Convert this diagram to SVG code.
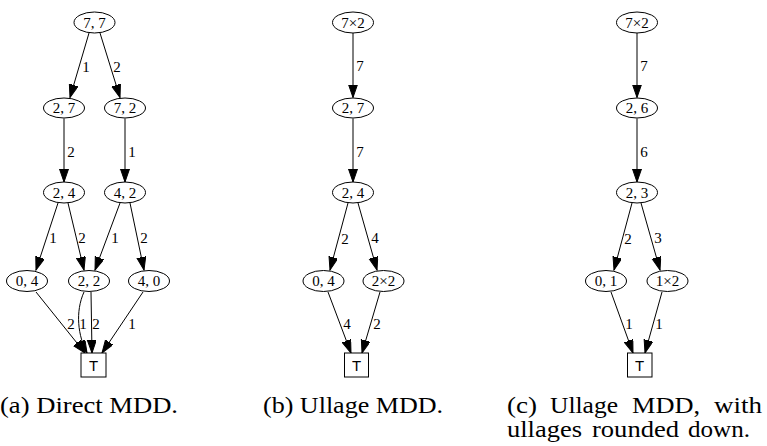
<svg xmlns="http://www.w3.org/2000/svg" width="767" height="446" viewBox="0 0 767 446">
  <style>
    .node ellipse { fill: #fff; stroke: #000; stroke-width: 1; }
    .node rect { fill: #fff; stroke: #000; stroke-width: 1; }
    .lbl { font-family: 'Liberation Serif', 'Times New Roman', serif; font-size: 15px; text-anchor: middle; fill: #000; }
    .term { font-family: 'Liberation Sans', Arial, sans-serif; font-size: 15px; text-anchor: middle; fill: #000; }
    .edge { fill: none; stroke: #000; stroke-width: 1; marker-end: url(#arrow); }
    .elbl { font-family: 'Liberation Serif', 'Times New Roman', serif; font-size: 15px; text-anchor: middle; fill: #000; }
    .cap { font-family: 'Liberation Serif', 'Times New Roman', serif; font-size: 24px; fill: #000; }
  </style>
  <defs>
    <marker id="arrow" markerUnits="userSpaceOnUse" markerWidth="14" markerHeight="10" refX="13" refY="4.5" orient="auto">
      <path d="M0,0 L13,4.5 L0,9 Z" fill="#000" stroke="#000" stroke-width="1"/>
    </marker>
  </defs>

  <!-- connectors -->
  <g id="connectors">
    <!-- (a) direct MDD -->
    <line class="edge" x1="89" y1="33" x2="70" y2="97.5"/>
    <line class="edge" x1="100" y1="33" x2="120" y2="97.5"/>
    <line class="edge" x1="64" y1="118.5" x2="64" y2="182"/>
    <line class="edge" x1="125" y1="118.5" x2="125" y2="182"/>
    <line class="edge" x1="58" y1="203" x2="36" y2="270"/>
    <line class="edge" x1="68" y1="203" x2="84" y2="270"/>
    <line class="edge" x1="120" y1="203" x2="95" y2="270"/>
    <line class="edge" x1="130" y1="203" x2="144" y2="270"/>
    <line class="edge" x1="36" y1="292" x2="85" y2="353"/>
    <path class="edge" d="M84,292 C75,312 78,336 87,353"/>
    <line class="edge" x1="91" y1="292" x2="92" y2="353"/>
    <line class="edge" x1="143" y1="292" x2="102" y2="353"/>
    <text class="elbl" x="86" y="72">1</text>
    <text class="elbl" x="117" y="72">2</text>
    <text class="elbl" x="71" y="157">2</text>
    <text class="elbl" x="132" y="157">1</text>
    <text class="elbl" x="53" y="243">1</text>
    <text class="elbl" x="82" y="243">2</text>
    <text class="elbl" x="115" y="243">1</text>
    <text class="elbl" x="144" y="243">2</text>
    <text class="elbl" x="71" y="329">2</text>
    <text class="elbl" x="83" y="329">1</text>
    <text class="elbl" x="96" y="329">2</text>
    <text class="elbl" x="132" y="329">1</text>

    <!-- (b) ullage MDD -->
    <line class="edge" x1="353" y1="33" x2="353" y2="97.5"/>
    <line class="edge" x1="353" y1="118.5" x2="353" y2="182"/>
    <line class="edge" x1="348" y1="203" x2="330" y2="270"/>
    <line class="edge" x1="358" y1="203" x2="377" y2="270"/>
    <line class="edge" x1="328" y1="292" x2="351" y2="353"/>
    <line class="edge" x1="380" y1="292" x2="362" y2="353"/>
    <text class="elbl" x="360" y="71">7</text>
    <text class="elbl" x="360" y="157">7</text>
    <text class="elbl" x="345" y="244">2</text>
    <text class="elbl" x="375" y="243">4</text>
    <text class="elbl" x="347" y="329">4</text>
    <text class="elbl" x="377" y="329">2</text>

    <!-- (c) ullage MDD, rounded down -->
    <line class="edge" x1="637" y1="33" x2="637" y2="97.5"/>
    <line class="edge" x1="637" y1="118.5" x2="637" y2="182"/>
    <line class="edge" x1="632" y1="203" x2="614" y2="270"/>
    <line class="edge" x1="641" y1="203" x2="660" y2="270"/>
    <line class="edge" x1="611" y1="292" x2="633" y2="353"/>
    <line class="edge" x1="662" y1="292" x2="645" y2="353"/>
    <text class="elbl" x="644" y="71">7</text>
    <text class="elbl" x="644" y="157">6</text>
    <text class="elbl" x="628" y="244">2</text>
    <text class="elbl" x="658" y="243">3</text>
    <text class="elbl" x="629" y="329">1</text>
    <text class="elbl" x="659" y="329">1</text>
  </g>

  <!-- (a) nodes -->
  <g id="a-7-7" class="node"><ellipse cx="94.5" cy="22.5" rx="20.5" ry="10.5"/><text class="lbl" x="94.5" y="27.5">7, 7</text></g>
  <g id="a-2-7" class="node"><ellipse cx="64" cy="108" rx="20.5" ry="10"/><text class="lbl" x="64" y="113">2, 7</text></g>
  <g id="a-7-2" class="node"><ellipse cx="125" cy="108" rx="20.5" ry="10"/><text class="lbl" x="125" y="113">7, 2</text></g>
  <g id="a-2-4" class="node"><ellipse cx="64" cy="192.5" rx="20.5" ry="10.5"/><text class="lbl" x="64" y="197.5">2, 4</text></g>
  <g id="a-4-2" class="node"><ellipse cx="125" cy="192.5" rx="20.5" ry="10.5"/><text class="lbl" x="125" y="197.5">4, 2</text></g>
  <g id="a-0-4" class="node"><ellipse cx="27" cy="281" rx="20.5" ry="10.5"/><text class="lbl" x="27" y="286">0, 4</text></g>
  <g id="a-2-2" class="node"><ellipse cx="89" cy="281" rx="20.5" ry="10.5"/><text class="lbl" x="89" y="286">2, 2</text></g>
  <g id="a-4-0" class="node"><ellipse cx="149" cy="281" rx="20.5" ry="10.5"/><text class="lbl" x="149" y="286">4, 0</text></g>
  <g id="a-T" class="node"><rect x="81" y="353" width="25" height="24"/><text class="term" x="93.5" y="370.5">T</text></g>

  <!-- (b) nodes -->
  <g id="b-7x2" class="node"><ellipse cx="353" cy="22.5" rx="20.5" ry="10.5"/><text class="lbl" x="353" y="27.5">7×2</text></g>
  <g id="b-2-7" class="node"><ellipse cx="353" cy="108" rx="20.5" ry="10"/><text class="lbl" x="353" y="113">2, 7</text></g>
  <g id="b-2-4" class="node"><ellipse cx="353" cy="192.5" rx="20.5" ry="10.5"/><text class="lbl" x="353" y="197.5">2, 4</text></g>
  <g id="b-0-4" class="node"><ellipse cx="323.5" cy="281" rx="20.5" ry="10.5"/><text class="lbl" x="323.5" y="286">0, 4</text></g>
  <g id="b-2x2" class="node"><ellipse cx="383.5" cy="281" rx="20.5" ry="10.5"/><text class="lbl" x="383.5" y="286">2×2</text></g>
  <g id="b-T" class="node"><rect x="344.5" y="353" width="24" height="24"/><text class="term" x="356.5" y="370.5">T</text></g>

  <!-- (c) nodes -->
  <g id="c-7x2" class="node"><ellipse cx="637" cy="22.5" rx="20.5" ry="10.5"/><text class="lbl" x="637" y="27.5">7×2</text></g>
  <g id="c-2-6" class="node"><ellipse cx="637" cy="108" rx="20.5" ry="10"/><text class="lbl" x="637" y="113">2, 6</text></g>
  <g id="c-2-3" class="node"><ellipse cx="637" cy="192.5" rx="20.5" ry="10.5"/><text class="lbl" x="637" y="197.5">2, 3</text></g>
  <g id="c-0-1" class="node"><ellipse cx="606" cy="281" rx="20.5" ry="10.5"/><text class="lbl" x="606" y="286">0, 1</text></g>
  <g id="c-1x2" class="node"><ellipse cx="667.5" cy="281" rx="20.5" ry="10.5"/><text class="lbl" x="667.5" y="286">1×2</text></g>
  <g id="c-T" class="node"><rect x="627.5" y="353" width="24.5" height="24"/><text class="term" x="639.7" y="370.5">T</text></g>

  <!-- subfigure captions -->
  <g id="captions">
    <text class="cap" x="0" y="413" textLength="178" lengthAdjust="spacingAndGlyphs">(a) Direct MDD.</text>
    <text class="cap" x="263" y="413" textLength="180" lengthAdjust="spacingAndGlyphs">(b) Ullage MDD.</text>
    <text class="cap" x="507" y="413" textLength="30" lengthAdjust="spacingAndGlyphs">(c)</text>
    <text class="cap" x="550" y="413" textLength="68" lengthAdjust="spacingAndGlyphs">Ullage</text>
    <text class="cap" x="632" y="413" textLength="68" lengthAdjust="spacingAndGlyphs">MDD,</text>
    <text class="cap" x="714" y="413" textLength="48" lengthAdjust="spacingAndGlyphs">with</text>
    <text class="cap" x="507" y="437" textLength="75" lengthAdjust="spacingAndGlyphs">ullages</text>
    <text class="cap" x="592" y="437" textLength="87" lengthAdjust="spacingAndGlyphs">rounded</text>
    <text class="cap" x="688" y="437" textLength="62" lengthAdjust="spacingAndGlyphs">down.</text>
  </g>
</svg>
